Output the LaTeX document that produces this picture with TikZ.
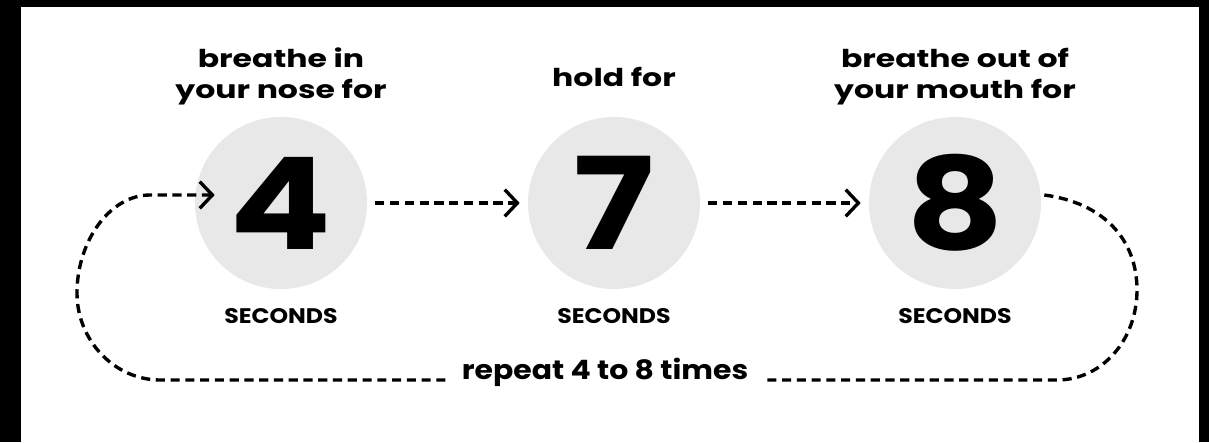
\documentclass[tikz,border=0pt]{standalone}
\usepackage{fontspec}
\setmainfont{Poppins}
\newfontfamily\stepfont[FakeStretch=1.28]{Poppins}
\newfontfamily\numfont[FakeStretch=1.18]{Poppins}
\newfontfamily\capfont[FakeStretch=1.12]{Poppins}
\usetikzlibrary{arrows.meta, positioning}
\definecolor{circlegray}{HTML}{E8E8E8}
\tikzset{
  numcircle/.style={
    circle, fill=circlegray, minimum size=4.3cm, inner sep=0pt,
    font=\numfont\fontsize{91}{91}\selectfont\bfseries
  },
  steplabel/.style={align=center, inner sep=0pt, font=\stepfont\fontsize{17.5}{22}\selectfont\bfseries},
  seclabel/.style={inner sep=0pt, font=\capfont\fontsize{15}{15}\selectfont\bfseries},
  replabel/.style={inner xsep=0.4cm, inner ysep=0pt, font=\capfont\fontsize{19}{19}\selectfont\bfseries},
  dline/.style={line width=2.4pt, dash pattern=on 6.5pt off 4pt},
  darrow/.style={dline, -{Straight Barb[length=9pt, width=19pt]}}
}

\begin{document}
\begin{tikzpicture}[x=0.025cm, y=0.025cm]
    % frame
    \fill[black] (0,0) rectangle (1209,442);
    \fill[white] (21,0) rectangle (1199,435);
    \useasboundingbox (0,0) rectangle (1209,442);

    \node[numcircle] (c4) at (281,239) {4};
    \node[numcircle] (c7) at (614,239) {7};
    \node[numcircle] (c8) at (955,239) {8};

    \node[steplabel, above=0.28cm of c4] (t4) {breathe in\\your nose for};
    \node[steplabel] (t7) at (c7 |- t4) {hold for};
    \node[steplabel] (t8) at (c8 |- t4) {breathe out of\\your mouth for};

    \node[seclabel, below=0.46cm of c4] (s4) {SECONDS};
    \node[seclabel, below=0.46cm of c7] (s7) {SECONDS};
    \node[seclabel, below=0.46cm of c8] (s8) {SECONDS};

    \node[replabel] (rep) at (605,70) {repeat 4 to 8 times};

    \draw[darrow] ([xshift=0.2cm]c4.east) -- ([xshift=-0.2cm]c7.west);
    \draw[darrow] ([xshift=0.2cm]c7.east) -- ([xshift=-0.2cm]c8.west);

    % loop back
    \coordinate (loopR) at (1137,152);
    \coordinate (loopL) at (77,149);
    \coordinate (base) at (0,62);
    \draw[dline] ([shift={(3,8)}]c8.east) .. controls +(60,-8) and +(0,50) .. (loopR)
      .. controls +(0,-50) and +(45,0) .. (1057,62) -- (rep.east |- base);
    \draw[darrow] (rep.west |- base) -- (160,62) .. controls +(-45,0) and +(0,-48) .. (loopL)
      .. controls +(0,52) and +(-40,0) .. (150,247) -- ([shift={(20,8)}]c4.west);
\end{tikzpicture}
\end{document}
